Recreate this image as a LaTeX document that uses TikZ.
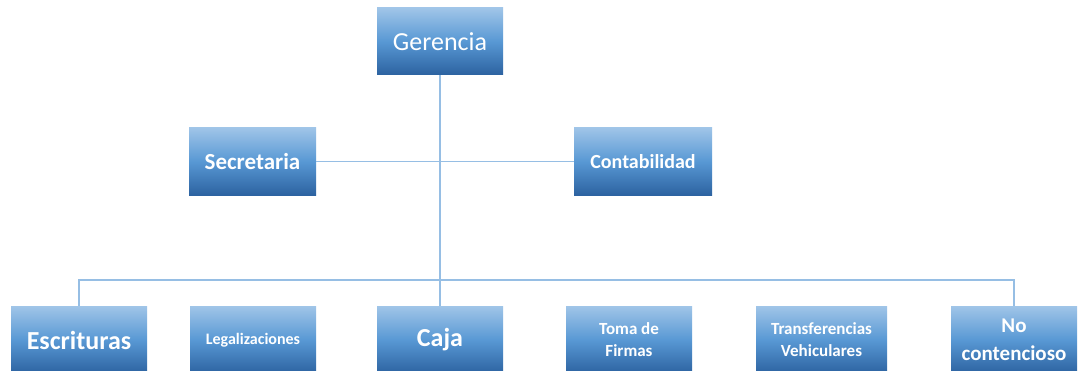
\documentclass[tikz,border=0pt]{standalone}
\usepackage{fontspec}
\setmainfont{Carlito}
\definecolor{boxtop}{RGB}{160,197,232}
\definecolor{boxmid}{RGB}{88,152,212}
\definecolor{boxbot}{RGB}{44,98,160}
\definecolor{linec}{RGB}{150,190,228}
\begin{document}
\begin{tikzpicture}[x=1pt,y=-1pt,
  orgbox/.style={rectangle, inner sep=0pt, align=center, text=white,
    top color=boxtop, bottom color=boxbot, middle color=boxmid},
  conn/.style={draw=linec, line width=1.3pt}]
\useasboundingbox (0,0) rectangle (1078,371);
\fill[white] (0,0) rectangle (1078,371);
% top
\node[orgbox, minimum width=126pt, minimum height=67pt, font=\fontsize{26}{31}\selectfont] (ger) at (440,41.5) {Gerencia};
\node[orgbox, minimum width=127pt, minimum height=68pt, font=\fontsize{23}{28}\selectfont\bfseries] (sec) at (252.5,161.5) {Secretaria};
\node[orgbox, minimum width=138pt, minimum height=68pt, font=\fontsize{20}{24}\selectfont\bfseries] (con) at (643,161.5) {Contabilidad};
% bottom row
\node[orgbox, minimum width=136pt, minimum height=68pt, font=\fontsize{26}{31}\selectfont\bfseries] (esc) at (79,340) {Escrituras};
\node[orgbox, minimum width=126pt, minimum height=68pt, font=\fontsize{16}{19}\selectfont\bfseries] (leg) at (253,340) {Legalizaciones};
\node[orgbox, minimum width=126pt, minimum height=68pt, font=\fontsize{26}{31}\selectfont\bfseries] (caja) at (440,340) {Caja};
\node[orgbox, minimum width=126pt, minimum height=68pt, font=\fontsize{17}{22}\selectfont\bfseries] (toma) at (629,340) {Toma de\\Firmas};
\node[orgbox, minimum width=131pt, minimum height=68pt, font=\fontsize{17}{22}\selectfont\bfseries] (trans) at (821.5,340) {Transferencias\\Vehiculares};
\node[orgbox, minimum width=126pt, minimum height=68pt, font=\fontsize{21}{28}\selectfont\bfseries] (noc) at (1014,340) {No\\contencioso};
% connectors
\coordinate (bus) at (440,280);
\draw[conn] (ger.south) -- (caja.north);
\draw[conn] (sec.east) -- (con.west);
\draw[conn] (esc.north) -- (esc.north |- bus) -- (noc.north |- bus) -- (noc.north);
\end{tikzpicture}
\end{document}
